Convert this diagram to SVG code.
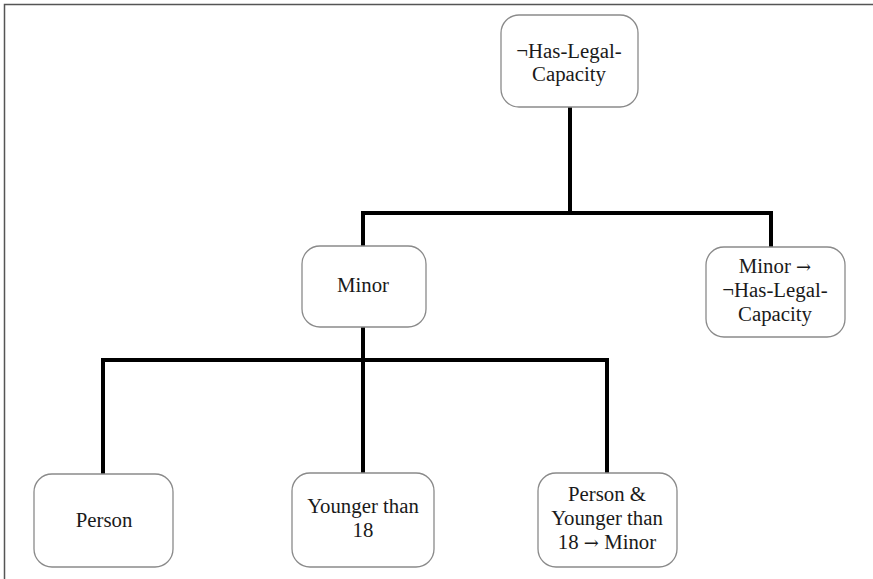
<svg xmlns="http://www.w3.org/2000/svg" width="873" height="579" viewBox="0 0 873 579">
<style>
.box{fill:#fff;stroke:#8a8a8a;stroke-width:1.3}
.t{font-family:"Liberation Serif","Times New Roman",serif;font-size:20.8px;fill:#1a1a1a;text-anchor:middle}
.a{font-family:"DejaVu Serif",serif;font-size:18px}
.c{stroke:#000;stroke-width:4;fill:none;stroke-linecap:square}
</style>
<rect width="873" height="579" fill="#fff"/>
<path d="M4.5 579V4.5H873" fill="none" stroke="#555" stroke-width="1.5"/>
<g id="connectors">
<path class="c" d="M570 108V213M363 213H771M363 213V246M771 213V247"/>
<path class="c" d="M363 327V360M103 360H607M103 360V474M363 360V473M607 360V473"/>
</g>
<g id="n-top">
<rect class="box" x="501" y="15" width="137" height="92" rx="18"/>
<text class="t" x="569" y="58">¬Has-Legal-</text>
<text class="t" x="569" y="81">Capacity</text>
</g>
<g id="n-minor">
<rect class="box" x="302" y="246" width="124" height="81" rx="18"/>
<text class="t" x="363" y="292">Minor</text>
</g>
<g id="n-rule1">
<rect class="box" x="706" y="247" width="139" height="90" rx="18"/>
<text class="t" x="775" y="273">Minor <tspan class="a">→</tspan></text>
<text class="t" x="775" y="297">¬Has-Legal-</text>
<text class="t" x="775" y="321">Capacity</text>
</g>
<g id="n-person">
<rect class="box" x="34" y="474" width="139" height="93" rx="18"/>
<text class="t" x="104" y="527">Person</text>
</g>
<g id="n-younger">
<rect class="box" x="292" y="473" width="142" height="94" rx="18"/>
<text class="t" x="363" y="513">Younger than</text>
<text class="t" x="363" y="537">18</text>
</g>
<g id="n-rule2">
<rect class="box" x="538" y="473" width="139" height="94" rx="18"/>
<text class="t" x="607" y="501">Person &amp;</text>
<text class="t" x="607" y="525">Younger than</text>
<text class="t" x="607" y="549">18 <tspan class="a">→</tspan> Minor</text>
</g>
</svg>
